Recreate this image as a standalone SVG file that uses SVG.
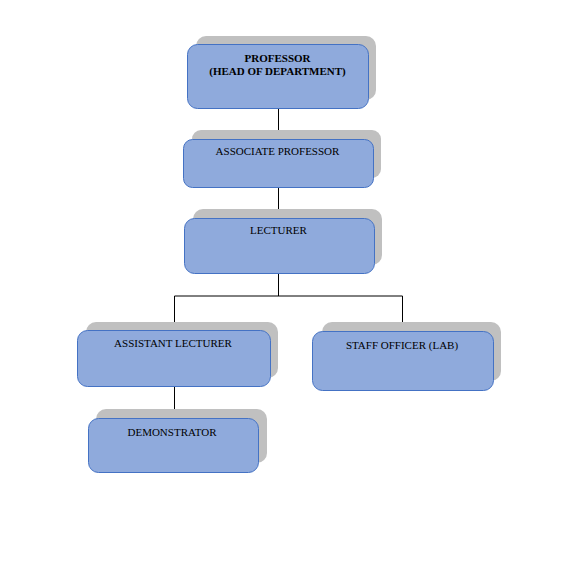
<svg xmlns="http://www.w3.org/2000/svg" width="575" height="569" viewBox="0 0 575 569">
<style>
.shadow{fill:#C0C0C0;}
.box{fill:#8FAADC;stroke:#4472C4;stroke-width:1;}
.t{font-family:"Liberation Serif","Times New Roman",serif;font-size:11px;fill:#000;text-anchor:middle;}
.b{font-weight:bold;}
.c{stroke:#000;stroke-width:1;fill:none;}
</style>
<rect width="575" height="569" fill="#fff"/>
<g id="connectors">
<path class="c" d="M278.5 108V139M278.5 187V218M278.5 273V296M174.5 296H402.5M174.5 296V324M402.5 296V327M174.5 387V413"/>
</g>
<g id="professor">
<rect class="shadow" x="196" y="36" width="180" height="64" rx="10"/>
<rect class="box" x="187.5" y="44.5" width="181" height="64" rx="10"/>
<text class="t b" x="277.5" y="62">PROFESSOR</text>
<text class="t b" x="277.5" y="75">(HEAD OF DEPARTMENT)</text>
</g>
<g id="associate">
<rect class="shadow" x="192" y="130" width="189" height="48" rx="9"/>
<rect class="box" x="183.5" y="139.5" width="190" height="48" rx="9"/>
<text class="t" x="277.5" y="155">ASSOCIATE PROFESSOR</text>
</g>
<g id="lecturer">
<rect class="shadow" x="193" y="209" width="189" height="56" rx="10"/>
<rect class="box" x="184.5" y="218.5" width="190" height="55" rx="10"/>
<text class="t" x="278.5" y="234">LECTURER</text>
</g>
<g id="assistant">
<rect class="shadow" x="86" y="322" width="192" height="56" rx="10"/>
<rect class="box" x="77.5" y="330.5" width="193" height="56" rx="10"/>
<text class="t" x="173" y="347">ASSISTANT LECTURER</text>
</g>
<g id="staff">
<rect class="shadow" x="322" y="322" width="179" height="59" rx="10"/>
<rect class="box" x="312.5" y="331.5" width="181" height="59" rx="10"/>
<text class="t" x="402" y="349">STAFF OFFICER (LAB)</text>
</g>
<g id="demonstrator">
<rect class="shadow" x="96" y="409" width="171" height="54" rx="10"/>
<rect class="box" x="88.5" y="418.5" width="170" height="54" rx="10"/>
<text class="t" x="172" y="436">DEMONSTRATOR</text>
</g>
</svg>
